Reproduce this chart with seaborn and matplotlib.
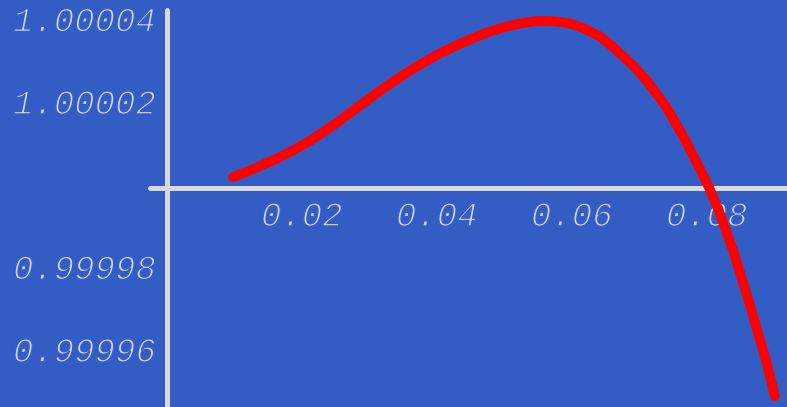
import matplotlib
matplotlib.use("Agg")
import matplotlib.pyplot as plt
import matplotlib.patheffects as pe
import seaborn as sns
from matplotlib.ticker import MultipleLocator

# curve
x_vals = [0.009822, 0.011600, 0.013526, 0.016044, 0.018563, 0.020933, 0.023452,
          0.025970, 0.028341, 0.030859, 0.033378, 0.035748, 0.037822, 0.040044,
          0.042415, 0.044933, 0.047452, 0.049822, 0.052341, 0.054563, 0.056044,
          0.057822, 0.059748, 0.061674, 0.064193, 0.066119, 0.067156, 0.069081,
          0.071156, 0.074119, 0.076489, 0.079007, 0.080489, 0.081970, 0.083896,
          0.086415, 0.088933, 0.090100]
y_vals = [1.00000266, 1.00000375, 1.00000508, 1.00000690, 1.00000896, 1.00001114,
          1.00001380, 1.00001671, 1.00001961, 1.00002264, 1.00002554, 1.00002809,
          1.00003015, 1.00003220, 1.00003414, 1.00003596, 1.00003765, 1.00003886,
          1.00003983, 1.00004039, 1.00004048, 1.00004031, 1.00003983, 1.00003874,
          1.00003668, 1.00003414, 1.00003257, 1.00002966, 1.00002591, 1.00001937,
          1.00001259, 1.00000460, 0.99999964, 0.99999370, 0.99998499, 0.99997167,
          0.99995738, 0.99994960]

x_ticks = [0.02, 0.04, 0.06, 0.08]
x_labels = ["0.02", "0.04", "0.06", "0.08"]
y_ticks = [0.99996, 0.99998, 1.00002, 1.00004]
y_labels = ["0.99996", "0.99998", "1.00002", "1.00004"]

bg = "#335cc4"
axis_col = "#d9d9d9"
label_col = "#d0d5ea"

sns.set_style("white")
plt.rcParams["font.family"] = ["Liberation Mono", "DejaVu Sans Mono"]

fig = plt.figure(figsize=(7.87, 4.07), dpi=100)
fig.patch.set_facecolor(bg)
ax = fig.add_axes([0, 0, 1, 1])
ax.set_facecolor(bg)

sns.lineplot(x=x_vals, y=y_vals, ax=ax, color="#ff0000", linewidth=7,
             sort=False, estimator=None, zorder=5)
ax.lines[-1].set_solid_capstyle("round")
ax.lines[-1].set_solid_joinstyle("round")

ax.set_xlim(-0.0247, 0.0919)
ax.set_ylim(1 - 5.303e-5, 1 + 4.552e-5)

for s in ["top", "right"]:
    ax.spines[s].set_visible(False)
ax.spines["left"].set_position(("data", 0))
ax.spines["bottom"].set_position(("data", 1.0))
for s in ["left", "bottom"]:
    ax.spines[s].set_color(axis_col)
    ax.spines[s].set_linewidth(3.6)
    ax.spines[s].set_capstyle("round")
    ax.spines[s].set_zorder(2)
ax.spines["left"].set_bounds(1 - 6e-5, 1 + 4.31e-5)
ax.spines["bottom"].set_bounds(-0.00247, 0.1)

ax.set_xticks(x_ticks)
ax.set_xticklabels(x_labels)
ax.set_yticks(y_ticks)
ax.set_yticklabels(y_labels)
ax.xaxis.set_minor_locator(MultipleLocator(0.005))
ax.yaxis.set_minor_locator(MultipleLocator(0.5e-5))

ax.tick_params(axis="both", which="major", direction="in", length=4, width=0.8,
               color="#1a2a55", labelcolor=label_col, labelsize=24.5)
ax.tick_params(axis="both", which="minor", direction="in", length=3, width=0.8,
               color="#5a78cf")
ax.tick_params(axis="x", which="major", pad=10)
ax.tick_params(axis="y", which="major", pad=8)

# thin the glyphs a little: the reference uses a light italic mono face
thin = [pe.Normal(), pe.Stroke(linewidth=0.9, foreground=bg)]
for lab in ax.get_xticklabels() + ax.get_yticklabels():
    lab.set_fontstyle("italic")
    lab.set_path_effects(thin)
for lab in ax.get_yticklabels():
    lab.set_verticalalignment("center")
ax.grid(False)

fig.savefig("out.png", dpi=100, facecolor=bg)
